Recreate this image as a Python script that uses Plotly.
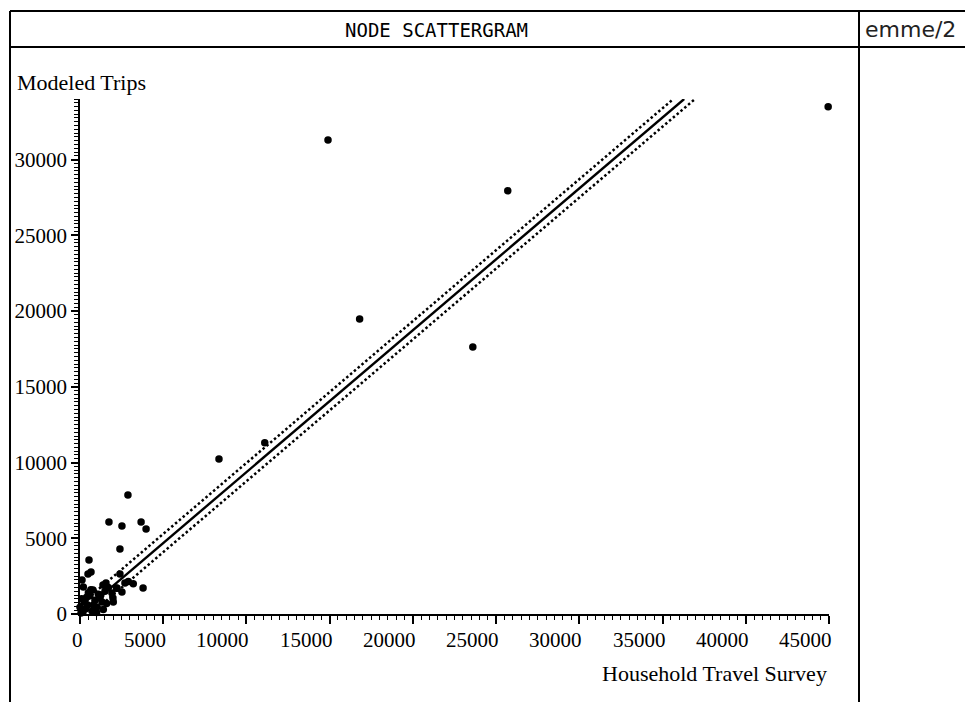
import plotly.graph_objects as go

# ---- data ----
survey = [44950, 14900, 25700, 16800, 23600, 11100, 8350, 2880, 1740, 2520,
          3670, 3970, 2400, 540, 480, 660, 120, 3790, 2400, 2700,
          2220, 2520, 1980, 1380, 1560, 780, 1920, 200, 300, 450,
          600, 900, 1100, 1200, 1320, 1020, 720, 180, 0, 60,
          350, 800, 1500, 1700, 2200, 500, 100, 1000, 1400, 2000,
          650, 250, 1250, 850, 400, 2900, 1600, 3200]
modeled = [33490, 31300, 27940, 19480, 17630, 11300, 10240, 7860, 6080, 5810,
           6080, 5610, 4290, 3570, 2640, 2770, 2240, 1720, 2640, 2050,
           1720, 1450, 1060, 1920, 2050, 1590, 1390, 1780, 920, 590,
           1200, 900, 1300, 1050, 790, 460, 200, 130, 450, 60,
           350, 600, 1500, 1750, 1700, 1400, 1000, 100, 300, 800,
           1600, 800, 1250, 250, 1100, 2150, 700, 2000]

fit_x = [0, 36300]
fit_y = [0, 34000]
upper_x = [0, 35650]
upper_y = [600, 34000]
lower_x = [640, 36950]
lower_y = [0, 34000]

x_ticks = [0, 5000, 10000, 15000, 20000, 25000, 30000, 35000, 40000, 45000]
y_ticks = [0, 5000, 10000, 15000, 20000, 25000, 30000]

title_text = "NODE SCATTERGRAM"
x_title = "Household Travel Survey"
y_title = "Modeled Trips"
logo_text = "emme/2"

# ---- layout geometry ----
W, H = 965, 702
L, R, T, B = 80, 136, 99, 88
PW, PH = W - L - R, H - T - B


def px(x):
    return (x - L) / PW


def py(y):
    return 1 - (y - T) / PH


fig = go.Figure()
fig.add_trace(go.Scatter(x=upper_x, y=upper_y, mode="lines",
                         line=dict(color="black", width=2.5, dash="2.5px,2.5px"),
                         hoverinfo="skip"))
fig.add_trace(go.Scatter(x=lower_x, y=lower_y, mode="lines",
                         line=dict(color="black", width=2.5, dash="2.5px,2.5px"),
                         hoverinfo="skip"))
fig.add_trace(go.Scatter(x=fit_x, y=fit_y, mode="lines",
                         line=dict(color="black", width=2.4),
                         hoverinfo="skip"))
fig.add_trace(go.Scatter(x=survey, y=modeled, mode="markers",
                         marker=dict(color="black", size=7.5),
                         cliponaxis=False))

tick_font = dict(family="Liberation Serif, Times New Roman, serif", size=21, color="black")
label_font = dict(family="Liberation Serif, Times New Roman, serif", size=22, color="black")

fig.update_xaxes(range=[0, 45000], tickvals=x_ticks, showticklabels=False,
                 showline=True, linecolor="black", linewidth=1.5,
                 ticks="outside", ticklen=8, tickwidth=1.5, tickcolor="black",
                 minor=dict(dtick=500, ticks="outside", ticklen=4, tickwidth=1.2, tickcolor="black"),
                 showgrid=False, zeroline=False)
fig.update_yaxes(range=[0, 34000], tickvals=y_ticks, ticktext=[str(v) for v in y_ticks],
                 showline=True, linecolor="black", linewidth=1.5,
                 ticks="outside", ticklen=7, tickwidth=1.5, tickcolor="black",
                 minor=dict(dtick=250, ticks="outside", ticklen=4, tickwidth=1.0, tickcolor="black"),
                 showgrid=False, zeroline=False, tickfont=tick_font)

shapes = []
lw = 2
shapes.append(dict(type="line", xref="paper", yref="paper", x0=px(10), x1=px(966), y0=py(11), y1=py(11), line=dict(color="black", width=lw)))
shapes.append(dict(type="line", xref="paper", yref="paper", x0=px(10), x1=px(966), y0=py(47), y1=py(47), line=dict(color="black", width=lw)))
shapes.append(dict(type="line", xref="paper", yref="paper", x0=px(10), x1=px(10), y0=py(11), y1=py(703), line=dict(color="black", width=lw)))
shapes.append(dict(type="line", xref="paper", yref="paper", x0=px(859), x1=px(859), y0=py(11), y1=py(703), line=dict(color="black", width=lw)))

annotations = [
    dict(text=title_text, xref="paper", yref="paper", x=px(436), y=py(30),
         xanchor="center", yanchor="middle", showarrow=False,
         font=dict(family="DejaVu Sans Mono", size=19, color="black")),
    dict(text=logo_text, xref="paper", yref="paper", x=px(863), y=py(29),
         xanchor="left", yanchor="middle", showarrow=False,
         font=dict(family="DejaVu Sans", size=22, color="#222")),
    dict(text=y_title, xref="paper", yref="paper", x=px(15), y=py(82),
         xanchor="left", yanchor="middle", showarrow=False, font=label_font),
    dict(text=x_title, xref="paper", yref="paper", x=px(829), y=py(673),
         xanchor="right", yanchor="middle", showarrow=False, font=label_font),
]
# x tick labels: right-aligned against each tick, as in the reference
for v in x_ticks:
    annotations.append(dict(text=str(v), xref="x", yref="paper", x=v, y=py(640),
                            xanchor="right", yanchor="middle", xshift=5,
                            showarrow=False, font=tick_font))

fig.update_layout(width=W, height=H, margin=dict(l=L, r=R, t=T, b=B),
                  paper_bgcolor="white", plot_bgcolor="white",
                  showlegend=False, shapes=shapes, annotations=annotations)

fig.write_html("out.html", config={"displayModeBar": False},
               post_script="document.body.style.margin='0';document.body.style.overflow='hidden';")
